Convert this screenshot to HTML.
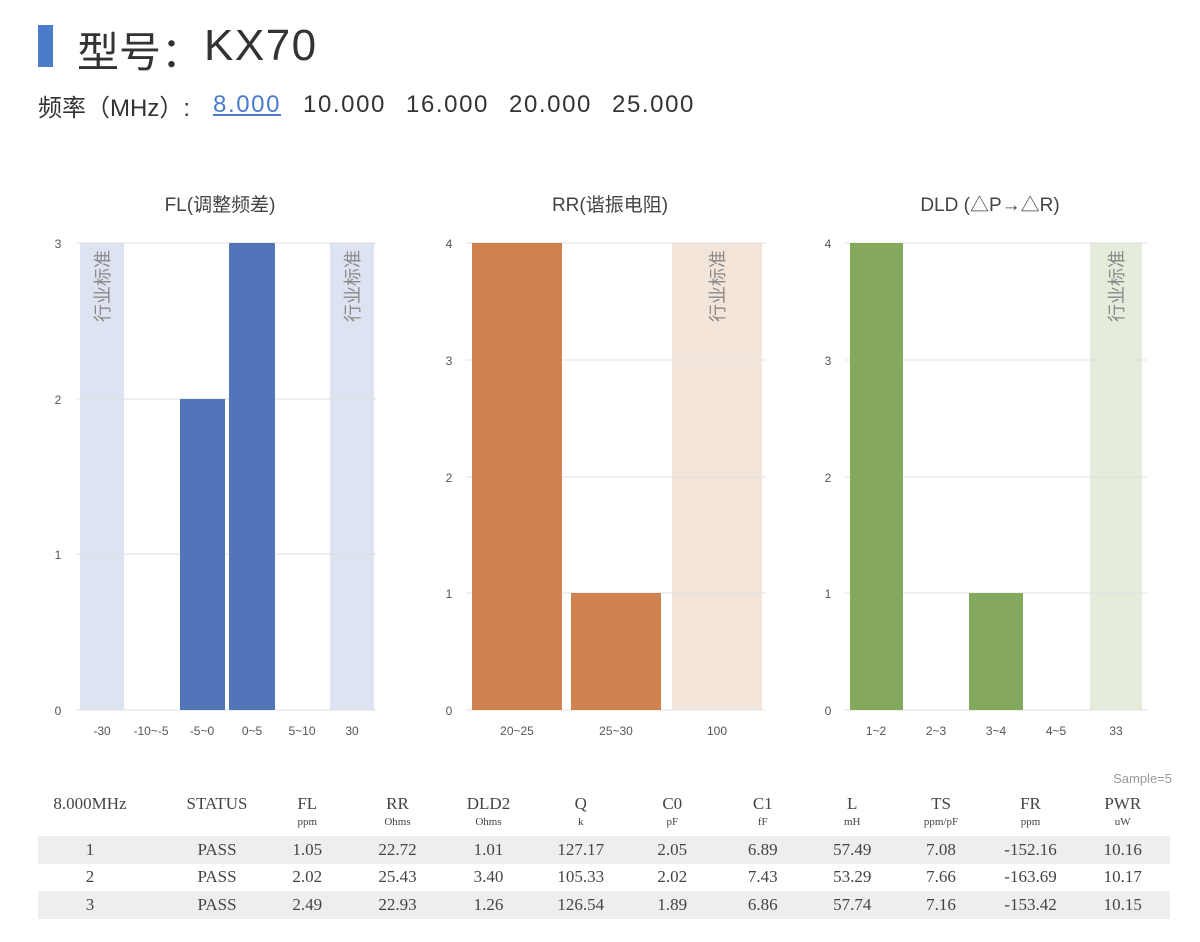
<!DOCTYPE html>
<html><head><meta charset="utf-8"><style>
body{margin:0;width:1200px;height:942px;background:#fff;font-family:"Liberation Sans","Noto Sans CJK SC",sans-serif;color:#333;position:relative;overflow:hidden}
.a{position:absolute;white-space:nowrap}
table{position:absolute;left:38px;top:792px;width:1132px;border-collapse:collapse;table-layout:fixed;font-family:"Liberation Serif","Noto Serif CJK SC",serif;color:#444}
td{text-align:center;padding:0}
td:nth-child(2){padding-left:30px}
.h td{font-size:17px;height:24px}
.u td{font-size:11px;height:20px;vertical-align:top}
.r td{font-size:17px;height:27.5px}
.g{background:#eeeeee}
.f{position:absolute;top:91px;font-size:24px;letter-spacing:1.6px;color:#333}
</style></head><body>
<div class="a" style="left:38px;top:25px;width:15px;height:42px;background:#4a7ccb"></div>
<div class="a" style="left:77px;top:19px;font-size:42px;color:#333">型号：</div>
<div class="a" style="left:204px;top:21px;font-size:44px;letter-spacing:1.5px;color:#333">KX70</div>
<div class="f" style="left:38px;letter-spacing:0;top:88px">频率（MHz）:</div>
<div class="f" style="left:213px;color:#4a7ccb;text-decoration:underline">8.000</div>
<div class="f" style="left:303px">10.000</div>
<div class="f" style="left:406px">16.000</div>
<div class="f" style="left:509px">20.000</div>
<div class="f" style="left:612px">25.000</div>
<svg class="a" style="left:0;top:0" width="1200" height="790" font-family="Liberation Sans,Noto Sans CJK SC,sans-serif">
<g font-size="19" fill="#444" text-anchor="middle">
<text x="220" y="211">FL(调整频差)</text>
<text x="610" y="211">RR(谐振电阻)</text>
<text x="990" y="211">DLD (△P→△R)</text></g>
<rect x="80" y="243" width="44" height="467" fill="#dde3f0"/>
<rect x="330" y="243" width="44" height="467" fill="#dde3f0"/>
<g stroke="#e0e0e0"><line x1="77" x2="376" y1="243" y2="243"/><line x1="77" x2="376" y1="399" y2="399"/><line x1="77" x2="376" y1="554" y2="554"/><line x1="77" x2="376" y1="710" y2="710"/></g>
<rect x="180" y="399" width="45" height="311" fill="#5274b8"/>
<rect x="229" y="243" width="46" height="467" fill="#5274b8"/>
<g font-size="12" fill="#555" text-anchor="middle">
<text x="58" y="248">3</text><text x="58" y="404">2</text><text x="58" y="559">1</text><text x="58" y="715">0</text>
<text x="102" y="735">-30</text><text x="151" y="735">-10~-5</text><text x="202" y="735">-5~0</text><text x="252" y="735">0~5</text><text x="302" y="735">5~10</text><text x="352" y="735">30</text>
<text x="449" y="248">4</text><text x="449" y="365">3</text><text x="449" y="482">2</text><text x="449" y="598">1</text><text x="449" y="715">0</text>
<text x="517" y="735">20~25</text><text x="616" y="735">25~30</text><text x="717" y="735">100</text>
<text x="828" y="248">4</text><text x="828" y="365">3</text><text x="828" y="482">2</text><text x="828" y="598">1</text><text x="828" y="715">0</text>
<text x="876" y="735">1~2</text><text x="936" y="735">2~3</text><text x="996" y="735">3~4</text><text x="1056" y="735">4~5</text><text x="1116" y="735">33</text>
</g>
<rect x="672" y="243" width="90" height="467" fill="#f4e5da"/>
<g stroke="#e0e0e0"><line x1="466" x2="766" y1="243" y2="243"/><line x1="466" x2="766" y1="360" y2="360"/><line x1="466" x2="766" y1="477" y2="477"/><line x1="466" x2="766" y1="593" y2="593"/><line x1="466" x2="766" y1="710" y2="710"/></g>
<rect x="472" y="243" width="90" height="467" fill="#d0834e"/>
<rect x="571" y="593" width="90" height="117" fill="#d0834e"/>
<rect x="1090" y="243" width="52" height="467" fill="#e5ecdc"/>
<g stroke="#e0e0e0"><line x1="845" x2="1147" y1="243" y2="243"/><line x1="845" x2="1147" y1="360" y2="360"/><line x1="845" x2="1147" y1="477" y2="477"/><line x1="845" x2="1147" y1="593" y2="593"/><line x1="845" x2="1147" y1="710" y2="710"/></g>
<rect x="850" y="243" width="53" height="467" fill="#84a85c"/>
<rect x="969" y="593" width="54" height="117" fill="#84a85c"/>
<g font-size="18" fill="#888" text-anchor="middle">
<text transform="translate(109,286) rotate(-90)">行业标准</text>
<text transform="translate(359,286) rotate(-90)">行业标准</text>
<text transform="translate(724,286) rotate(-90)">行业标准</text>
<text transform="translate(1123,286) rotate(-90)">行业标准</text>
</g>
<text x="1172" y="783" font-size="13" fill="#999" text-anchor="end">Sample=5</text>
</svg>
<table>
<colgroup><col style="width:104px"><col style="width:120px"><col style="width:90.5px"><col style="width:90px"><col style="width:92px"><col style="width:92.5px"><col style="width:90.5px"><col style="width:90.5px"><col style="width:88.5px"><col style="width:89px"><col style="width:90px"><col style="width:94.5px"></colgroup>
<tr class="h"><td>8.000MHz</td><td>STATUS</td><td>FL</td><td>RR</td><td>DLD2</td><td>Q</td><td>C0</td><td>C1</td><td>L</td><td>TS</td><td>FR</td><td>PWR</td></tr>
<tr class="u"><td></td><td></td><td>ppm</td><td>Ohms</td><td>Ohms</td><td>k</td><td>pF</td><td>fF</td><td>mH</td><td>ppm/pF</td><td>ppm</td><td>uW</td></tr>
<tr class="r g"><td>1</td><td>PASS</td><td>1.05</td><td>22.72</td><td>1.01</td><td>127.17</td><td>2.05</td><td>6.89</td><td>57.49</td><td>7.08</td><td>-152.16</td><td>10.16</td></tr>
<tr class="r"><td>2</td><td>PASS</td><td>2.02</td><td>25.43</td><td>3.40</td><td>105.33</td><td>2.02</td><td>7.43</td><td>53.29</td><td>7.66</td><td>-163.69</td><td>10.17</td></tr>
<tr class="r g"><td>3</td><td>PASS</td><td>2.49</td><td>22.93</td><td>1.26</td><td>126.54</td><td>1.89</td><td>6.86</td><td>57.74</td><td>7.16</td><td>-153.42</td><td>10.15</td></tr>
</table>
</body></html>
